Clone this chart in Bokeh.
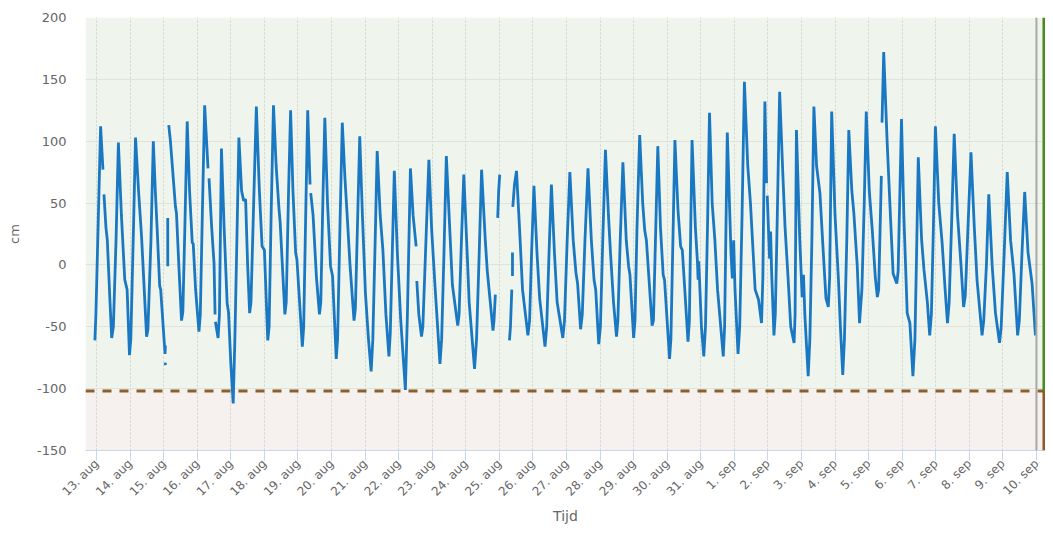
import numpy as np
from math import pi
from bokeh.plotting import figure
from bokeh.models import FixedTicker, BoxAnnotation, Span, Range1d
from bokeh.embed import file_html
from bokeh.resources import INLINE

# ---- tick labels -------------------------------------------------------
day_labels = ["13. aug", "14. aug", "15. aug", "16. aug", "17. aug", "18. aug",
              "19. aug", "20. aug", "21. aug", "22. aug", "23. aug", "24. aug",
              "25. aug", "26. aug", "27. aug", "28. aug", "29. aug", "30. aug",
              "31. aug", "1. sep", "2. sep", "3. sep", "4. sep", "5. sep",
              "6. sep", "7. sep", "8. sep", "9. sep", "10. sep"]
day_ticks = list(range(len(day_labels)))          # days after 13 aug 00:00
y_ticks = [-150, -100, -50, 0, 50, 100, 150, 200]
y_labels = ["-150", "-100", "-50", "0", "50", "100", "150", "200"]

threshold_cm = -102      # dashed alarm level
now_day = 28             # grey "now" marker (10 sep)
x_start, x_end = -0.33, 28.27

# ---- water level (cm); time in days after 13 aug 00:00; None = gap ------
t_days = [
    -0.05, -0.02, 0.12, 0.19, None,
    0.22, 0.28, 0.32, 0.40, 0.45, 0.50, 0.58, 0.65, 0.74, 0.84, 0.91, 0.98,
    1.02, 1.10, 1.16, 1.25, 1.34, 1.42, 1.49, 1.53, 1.62, 1.69, 1.75, 1.81,
    1.88, 1.91, 2.04, 2.05, None,
    2.045, 2.05, None,
    2.12, 2.121, None,
    2.15, 2.20, 2.35, 2.38, 2.45, 2.53, 2.57, 2.63, 2.70, 2.77, 2.85, 2.88,
    2.95, 3.05, 3.09, 3.15, 3.22, 3.32, None,
    3.35, 3.43, 3.50, 3.53, None,
    3.54, 3.62, 3.66, 3.72, 3.80, 3.89, 3.93, 4.00, 4.07, 4.12, 4.18, 4.24,
    4.32, 4.38, 4.44, 4.50, 4.56, 4.60, 4.68, 4.76, 4.85, 4.93, 5.00, 5.10,
    5.14, 5.20, 5.27, 5.35, 5.43, 5.47, 5.61, 5.65, 5.72, 5.78, 5.85, 5.93,
    5.97, 6.13, 6.17, 6.23, 6.29, 6.33, 6.36, None,
    6.38, 6.45, 6.55, 6.64, 6.68, 6.74, 6.80, 6.88, 6.97, 7.03, 7.14, 7.18,
    7.25, 7.32, 7.40, 7.47, 7.55, 7.67, 7.71, 7.78, 7.84, 7.92, 8.01, 8.10,
    8.18, 8.23, 8.30, 8.36, 8.45, 8.53, 8.62, 8.71, 8.75, 8.81, 8.87, 8.96,
    9.06, 9.20, 9.26, 9.35, 9.43, 9.52, None,
    9.54, 9.60, 9.68, 9.72, 9.80, 9.90, 9.98, 10.08, 10.23, 10.28, 10.35,
    10.42, 10.52, 10.60, 10.76, 10.80, 10.87, 10.94, 11.04, 11.10, 11.26,
    11.32, 11.40, 11.47, 11.58, 11.64, 11.81, 11.84, 11.88, None,
    11.95, 11.98, 12.01, None,
    12.30, 12.33, 12.37, None,
    12.39, 12.391, None,
    12.40, 12.45, 12.51, 12.60, 12.69, 12.85, 12.90, 12.96, 13.03, 13.12,
    13.20, 13.36, 13.41, 13.48, 13.55, 13.64, 13.72, 13.89, 13.94, 14.02,
    14.10, 14.20, 14.28, 14.33, 14.42, 14.47, 14.55, 14.64, 14.74, 14.82,
    14.87, 14.96, 15.01, 15.08, 15.16, 15.25, 15.31, 15.40, 15.49, 15.53,
    15.60, 15.68, 15.78, 15.85, 15.89, 16.00, 16.04, 16.10, 16.18, 16.27,
    16.33, 16.38, 16.55, 16.59, 16.65, 16.72, 16.80, 16.88, 16.92, 17.07,
    17.11, 17.17, 17.23, 17.32, 17.40, 17.45, 17.62, 17.66, 17.74, 17.84,
    17.90, 17.92, 17.94, 18.02, 18.09, 18.14, 18.20, 18.26, 18.34, 18.42,
    18.50, 18.67, 18.71, 18.79, 18.90, 18.94, 18.98, 19.02, 19.11, 19.16,
    19.23, 19.30, 19.40, 19.48, 19.62, 19.72, 19.81, 19.85, 19.91, 19.96, None,
    19.98, 20.05, 20.08, 20.11, 20.18, 20.22, 20.28, 20.35, 20.45, 20.51,
    20.60, 20.68, 20.78, 20.81, 20.85, 20.95, 21.02, 21.06, 21.10, 21.20,
    21.25, 21.31, 21.37, 21.45, 21.55, 21.65, 21.73, 21.80, 21.84, 21.90,
    22.00, 22.10, 22.16, 22.23, 22.28, 22.35, 22.41, 22.50, 22.56, 22.66,
    22.73, 22.76, 22.80, 22.87, 22.93, 23.02, 23.11, 23.20, 23.26, 23.30,
    23.38, None,
    23.40, 23.45, 23.55, 23.65, 23.73, 23.84, 23.88, 23.98, 24.05, 24.15,
    24.23, 24.32, 24.38, 24.43, 24.48, 24.58, 24.65, 24.75, 24.82, 24.87,
    24.93, 24.99, 25.09, 25.19, 25.28, 25.35, 25.40, 25.48, 25.55, 25.65,
    25.75, 25.83, 25.88, 25.96, 26.05, 26.15, 26.23, 26.38, 26.43, 26.51,
    26.58, 26.68, 26.78, 26.90, 26.95, 27.04, 27.13, 27.23, 27.33, 27.44,
    27.49, 27.57, 27.65, 27.75, 27.87, 27.97,
]
level_cm = [
    -61, -40, 112, 77, None,
    57, 30, 20, -30, -59, -50, 20, 99, 40, -12, -20, -73,
    -60, 30, 103, 60, 23, -20, -58, -52, 20, 100, 60, 26,
    -17, -20, -72, -65, None,
    -79, -81, None,
    38, -1, None,
    113, 100, 47, 42, 0, -45, -38, 30, 116, 60, 18, 17,
    -20, -54, -40, 40, 129, 78, None,
    70, 30, 1, -40, None,
    -46, -59, -40, 94, 30, -31, -38, -80, -112, -60, 20, 103,
    60, 52, 53, 0, -39, -30, 50, 128, 60, 15, 12, -61,
    -50, 40, 129, 80, 47, 34, -40, -30, 60, 125, 60, 10,
    4, -66, -50, 40, 125, 90, 65, None,
    58, 40, -10, -40, -30, 50, 119, 50, -1, -9, -76, -60,
    30, 115, 70, 38, 0, -45, -35, 40, 104, 40, -23, -60,
    -86, -60, 20, 92, 40, 12, -40, -74, -55, 10, 76, 10,
    -44, -101, -40, 78, 40, 15, None,
    -13, -40, -58, -50, 10, 85, 30, -16, -80, -60, 10,
    88, 30, -16, -49, -40, 20, 73, 10, -30, -84,
    -60, 10, 77, 20, -5, -53, -45, -24, None,
    38, 60, 73, None,
    -61, -50, -20, None,
    10, -9, None,
    47, 65, 76, 30, -20, -57, -45, 10, 64, 10,
    -27, -66, -50, 10, 65, 10, -30, -59, -45, 20,
    75, 20, -6, -15, -52, -40, 20, 78, 20, -12,
    -20, -64, -50, 20, 93, 40, 10, -30, -58, -45,
    20, 83, 20, -1, -8, -59, -45, 30, 105, 50,
    28, 20, -49, -45, 20, 96, 30, -8, -12, -76,
    -60, 20, 101, 45, 15, 12, -62, -45, 101, 30,
    3, -12, 3, -50, -74, -50, 30, 123, 50, 20,
    -20, -74, -50, 107, 10, -11, 20, -20, -72, -50,
    40, 148, 80, 50, -20, -28, -47, -10, 132, 66, None,
    56, 5, 27, -5, -57, -40, 40, 140, 70, 31,
    -10, -50, -63, -40, 109, 20, -26, -8, -40, -90,
    -60, 20, 128, 80, 58, 10, -27, -34, -10, 124,
    40, -11, -50, -89, -60, 20, 109, 60, 42, 0,
    -47, -35, -20, 50, 124, 60, 28, -10, -26, -20,
    72, None,
    115, 172, 101, 40, -7, -15, -5, 118, 40, -39,
    -47, -90, -60, 10, 87, 20, -4, -30, -57, -40,
    30, 112, 50, 18, -20, -47, -30, 40, 106, 40,
    1, -34, -25, 30, 91, 30, -12, -57, -45, 0,
    57, 0, -39, -63, -50, 10, 75, 20, -7, -57,
    -45, 10, 59, 10, -15, -57,
]

t = np.array([np.nan if v is None else v for v in t_days], dtype=float)
y = np.array([np.nan if v is None else v for v in level_cm], dtype=float)

FONT = "DejaVu Sans"
GREY = "#666666"

p = figure(width=1045, height=528, output_backend="svg", toolbar_location=None,
           x_range=Range1d(x_start, x_end), y_range=Range1d(-150, 200),
           min_border_left=85, min_border_right=0, min_border_top=17,
           min_border_bottom=78)
p.outline_line_color = None
p.background_fill_color = "white"
p.border_fill_color = "white"

# zone backgrounds
p.add_layout(BoxAnnotation(bottom=threshold_cm, fill_color="#eff5ec", fill_alpha=1,
                           line_color=None, level="image"))
p.add_layout(BoxAnnotation(top=threshold_cm, fill_color="#f6f0ef", fill_alpha=1,
                           line_color=None, level="image"))

# grids
p.ygrid.ticker = FixedTicker(ticks=y_ticks)
p.ygrid.grid_line_color = "#dfe3dc"
p.ygrid.grid_line_width = 1
p.xgrid.ticker = FixedTicker(ticks=day_ticks)
p.xgrid.grid_line_color = "#cfd3cc"
p.xgrid.grid_line_dash = "2 2"

# threshold line
p.add_layout(Span(location=threshold_cm, dimension="width", line_color="#8b5e2b",
                  line_width=3, line_dash="9 8", level="underlay"))

# water level series
p.line(t, y, line_color="#1a78c2", line_width=2.8)

# now marker
p.add_layout(Span(location=now_day, dimension="height", line_color="#a8a8a8",
                  line_width=2, level="overlay"))

# zone indicator bar at right edge
p.add_layout(BoxAnnotation(left=x_end - 0.09, right=x_end, bottom=threshold_cm,
                           fill_color="#4c8a1f", fill_alpha=1, line_color=None,
                           level="overlay"))
p.add_layout(BoxAnnotation(left=x_end - 0.09, right=x_end, top=threshold_cm,
                           fill_color="#8c5a2e", fill_alpha=1, line_color=None,
                           level="overlay"))

# y axis
ya = p.yaxis[0]
ya.ticker = FixedTicker(ticks=y_ticks)
ya.major_label_overrides = {v: s for v, s in zip(y_ticks, y_labels)}
ya.axis_line_color = None
ya.major_tick_line_color = None
ya.minor_tick_line_color = None
ya.major_tick_out = 0
ya.major_tick_in = 0
ya.major_label_standoff = 19
ya.major_label_text_font = FONT
ya.major_label_text_font_size = "13px"
ya.major_label_text_color = GREY
ya.axis_label = "cm"
ya.axis_label_text_font = FONT
ya.axis_label_text_font_size = "13px"
ya.axis_label_text_font_style = "normal"
ya.axis_label_text_color = GREY
ya.axis_label_standoff = 12

# x axis
xa = p.xaxis[0]
xa.ticker = FixedTicker(ticks=day_ticks)
xa.major_label_overrides = {d: s for d, s in zip(day_ticks, day_labels)}
xa.major_label_orientation = pi / 4
xa.axis_line_color = "#ccd6eb"
xa.major_tick_line_color = "#ccd6eb"
xa.major_tick_out = 10
xa.major_tick_in = 0
xa.minor_tick_line_color = None
xa.major_label_standoff = 1
xa.major_label_text_font = FONT
xa.major_label_text_font_size = "12px"
xa.major_label_text_color = GREY
xa.axis_label = "Tijd"
xa.axis_label_text_font = FONT
xa.axis_label_text_font_size = "14px"
xa.axis_label_text_font_style = "normal"
xa.axis_label_text_color = GREY
xa.axis_label_standoff = 1

open("out.html", "w").write(file_html(p, INLINE))
